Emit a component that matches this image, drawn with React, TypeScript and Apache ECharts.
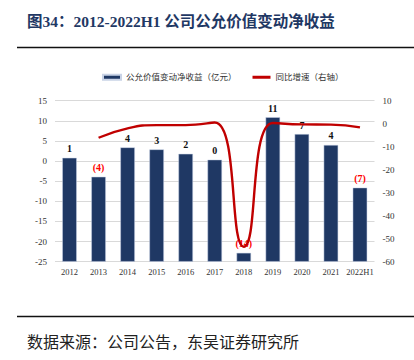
import React, { useEffect, useRef } from "react";
import * as echarts from "echarts";

const categories = ["2012", "2013", "2014", "2015", "2016", "2017", "2018", "2019", "2020", "2021", "2022H1"];
const netGains = [0.8, -3.9, 3.4, 2.9, 1.8, 0.35, -22.8, 10.9, 6.7, 4.0, -6.6];
const barLabels = ["1", "(4)", "4", "3", "2", "0", "(14)", "11", "7", "4", "(7)"];
const yoyGrowth = [null, -6.1, -2.0, -0.6, -0.6, 0.5, -53.5, 0.3, -0.3, -0.4, -1.6];
const leftTicks = { min: -25, max: 15, interval: 5 };
const rightTicks = { min: -60, max: 10, interval: 10 };

const SERIF = "'Liberation Serif', 'Times New Roman', 'Noto Sans CJK SC', serif";

export default function App() {
  const ref = useRef<HTMLDivElement>(null);
  useEffect(() => {
    if (!ref.current) return;
    const chart = echarts.init(ref.current, undefined, { renderer: "svg" });
    const base = leftTicks.min;
    chart.setOption({
      animation: false,
      backgroundColor: "#ffffff",
      textStyle: { fontFamily: SERIF },
      grid: { left: 55, right: 39.5, top: 100.7, bottom: 98.3, containLabel: false },
      legend: {
        top: 68,
        left: 97,
        itemGap: 16,
        itemWidth: 18,
        itemHeight: 5,
        textStyle: { fontSize: 8.5, color: "#333", fontFamily: SERIF },
        data: [
          { name: "公允价值变动净收益（亿元）", icon: "rect", itemStyle: { color: "#1f3864" } },
          { name: "同比增速（右轴）", icon: "path://M0,0H18V3H0Z", itemStyle: { color: "#c00000" } },
        ],
      },
      xAxis: {
        type: "category",
        data: categories,
        axisLine: { show: false },
        axisTick: { show: false },
        axisLabel: { fontSize: 8.5, color: "#333", margin: 6, interval: 0, fontFamily: SERIF },
      },
      yAxis: [
        {
          type: "value",
          min: leftTicks.min,
          max: leftTicks.max,
          interval: leftTicks.interval,
          axisLine: { show: false },
          axisTick: { show: false },
          axisLabel: { fontSize: 9, color: "#333", margin: 8, fontFamily: SERIF },
          splitLine: { lineStyle: { color: "#d9d9d9", width: 1 } },
        },
        {
          type: "value",
          position: "right",
          min: rightTicks.min,
          max: rightTicks.max,
          interval: rightTicks.interval,
          axisLine: { show: false },
          axisTick: { show: false },
          axisLabel: { fontSize: 9, color: "#333", margin: 8, fontFamily: SERIF },
          splitLine: { show: false },
        },
        {
          type: "value",
          show: false,
          min: 0,
          max: leftTicks.max - leftTicks.min,
        },
      ],
      series: [
        {
          name: "公允价值变动净收益（亿元）",
          type: "bar",
          yAxisIndex: 2,
          barWidth: 14.5,
          data: netGains.map((v, i) => ({
            value: v - base,
            label: { color: barLabels[i].startsWith("(") ? "#ff0000" : "#111" },
          })),
          itemStyle: { color: "#1f3864", borderColor: "#c9d3e6", borderWidth: 0.5 },
          label: {
            show: true,
            position: "top",
            distance: 4,
            fontSize: 10,
            fontWeight: "bold",
            fontFamily: SERIF,
            formatter: (p: any) => barLabels[p.dataIndex],
          },
        },
        {
          name: "同比增速（右轴）",
          type: "line",
          yAxisIndex: 1,
          smooth: 0.5,
          showSymbol: false,
          symbol: "none",
          connectNulls: false,
          data: yoyGrowth,
          lineStyle: { color: "#c00000", width: 2.4 },
          itemStyle: { color: "#c00000" },
          z: 5,
        },
      ],
      graphic: [
        {
          type: "text",
          left: 27,
          top: 14,
          style: {
            text: "图34：2012-2022H1 公司公允价值变动净收益",
            fontSize: 15.5,
            fontWeight: "bold",
            fontFamily: SERIF,
            fill: "#1f3864",
          },
        },
        {
          type: "line",
          shape: { x1: 17, y1: 47.5, x2: 414, y2: 47.5 },
          style: { stroke: "#111", lineWidth: 1.5 },
        },
        {
          type: "line",
          shape: { x1: 17, y1: 316.5, x2: 414, y2: 316.5 },
          style: { stroke: "#111", lineWidth: 1.5 },
        },
        {
          type: "text",
          left: 27,
          top: 334,
          style: {
            text: "数据来源：公司公告，东吴证券研究所",
            fontSize: 16,
            fontFamily: SERIF,
            fill: "#222",
          },
        },
      ],
    });
    return () => chart.dispose();
  }, []);
  return (
    <div
      ref={ref}
      style={{ position: "absolute", left: 0, top: 0, width: 414, height: 360 }}
    />
  );
}
